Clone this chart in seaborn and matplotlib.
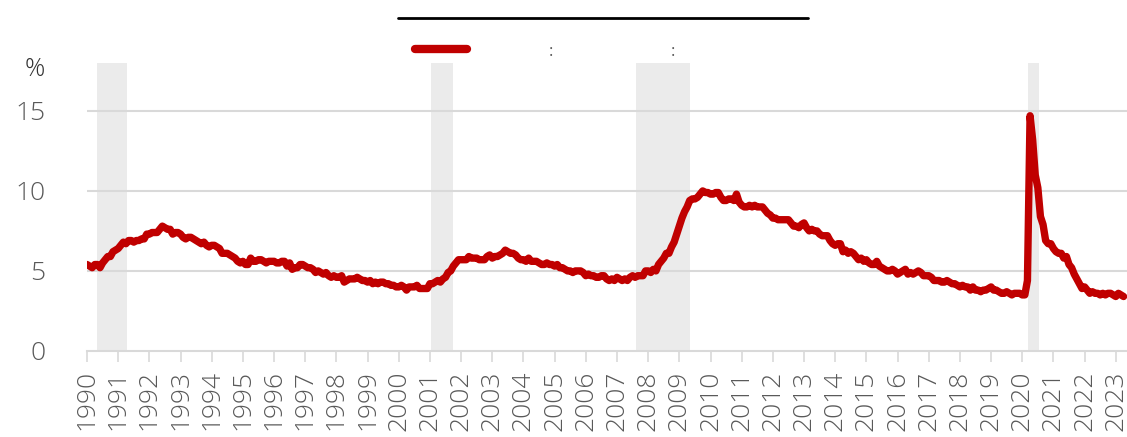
import numpy as np
import pandas as pd
import matplotlib.pyplot as plt
import seaborn as sns
from matplotlib.lines import Line2D

# monthly unemployment rate, %, Jan 1990 - Apr 2023
start_year = 1990
rate = [
    5.4, 5.3, 5.2, 5.4, 5.4, 5.2, 5.5, 5.7, 5.9, 5.9, 6.2, 6.3,   # 1990
    6.4, 6.6, 6.8, 6.7, 6.9, 6.9, 6.8, 6.9, 6.9, 7.0, 7.0, 7.3,   # 1991
    7.3, 7.4, 7.4, 7.4, 7.6, 7.8, 7.7, 7.6, 7.6, 7.3, 7.4, 7.4,   # 1992
    7.3, 7.1, 7.0, 7.1, 7.1, 7.0, 6.9, 6.8, 6.7, 6.8, 6.6, 6.5,   # 1993
    6.6, 6.6, 6.5, 6.4, 6.1, 6.1, 6.1, 6.0, 5.9, 5.8, 5.6, 5.5,   # 1994
    5.6, 5.4, 5.4, 5.8, 5.6, 5.6, 5.7, 5.7, 5.6, 5.5, 5.6, 5.6,   # 1995
    5.6, 5.5, 5.5, 5.6, 5.6, 5.3, 5.5, 5.1, 5.2, 5.2, 5.4, 5.4,   # 1996
    5.3, 5.2, 5.2, 5.1, 4.9, 5.0, 4.9, 4.8, 4.9, 4.7, 4.6, 4.7,   # 1997
    4.6, 4.6, 4.7, 4.3, 4.4, 4.5, 4.5, 4.5, 4.6, 4.5, 4.4, 4.4,   # 1998
    4.3, 4.4, 4.2, 4.3, 4.2, 4.3, 4.3, 4.2, 4.2, 4.1, 4.1, 4.0,   # 1999
    4.0, 4.1, 4.0, 3.8, 4.0, 4.0, 4.0, 4.1, 3.9, 3.9, 3.9, 3.9,   # 2000
    4.2, 4.2, 4.3, 4.4, 4.3, 4.5, 4.6, 4.9, 5.0, 5.3, 5.5, 5.7,   # 2001
    5.7, 5.7, 5.7, 5.9, 5.8, 5.8, 5.8, 5.7, 5.7, 5.7, 5.9, 6.0,   # 2002
    5.8, 5.9, 5.9, 6.0, 6.1, 6.3, 6.2, 6.1, 6.1, 6.0, 5.8, 5.7,   # 2003
    5.7, 5.6, 5.8, 5.6, 5.6, 5.6, 5.5, 5.4, 5.4, 5.5, 5.4, 5.4,   # 2004
    5.3, 5.4, 5.2, 5.2, 5.1, 5.0, 5.0, 4.9, 5.0, 5.0, 5.0, 4.9,   # 2005
    4.7, 4.8, 4.7, 4.7, 4.6, 4.6, 4.7, 4.7, 4.5, 4.4, 4.5, 4.4,   # 2006
    4.6, 4.5, 4.4, 4.5, 4.4, 4.6, 4.7, 4.6, 4.7, 4.7, 4.7, 5.0,   # 2007
    5.0, 4.9, 5.1, 5.0, 5.4, 5.6, 5.8, 6.1, 6.1, 6.5, 6.8, 7.3,   # 2008
    7.8, 8.3, 8.7, 9.0, 9.4, 9.5, 9.5, 9.6, 9.8, 10.0, 9.9, 9.9,  # 2009
    9.8, 9.8, 9.9, 9.9, 9.6, 9.4, 9.4, 9.5, 9.5, 9.4, 9.8, 9.3,   # 2010
    9.1, 9.0, 9.0, 9.1, 9.0, 9.1, 9.0, 9.0, 9.0, 8.8, 8.6, 8.5,   # 2011
    8.3, 8.3, 8.2, 8.2, 8.2, 8.2, 8.2, 8.0, 7.8, 7.8, 7.7, 7.9,   # 2012
    8.0, 7.7, 7.5, 7.6, 7.5, 7.5, 7.3, 7.2, 7.2, 7.2, 6.9, 6.7,   # 2013
    6.6, 6.7, 6.7, 6.2, 6.3, 6.1, 6.2, 6.1, 5.9, 5.7, 5.8, 5.6,   # 2014
    5.7, 5.5, 5.4, 5.4, 5.6, 5.3, 5.2, 5.1, 5.0, 5.0, 5.1, 5.0,   # 2015
    4.8, 4.9, 5.0, 5.1, 4.8, 4.9, 4.8, 4.9, 5.0, 4.9, 4.7, 4.7,   # 2016
    4.7, 4.6, 4.4, 4.4, 4.4, 4.3, 4.3, 4.4, 4.3, 4.2, 4.2, 4.1,   # 2017
    4.0, 4.1, 4.0, 4.0, 3.8, 4.0, 3.8, 3.8, 3.7, 3.8, 3.8, 3.9,   # 2018
    4.0, 3.8, 3.8, 3.7, 3.6, 3.6, 3.7, 3.6, 3.5, 3.6, 3.6, 3.6,   # 2019
    3.5, 3.5, 4.4, 14.7, 13.2, 11.0, 10.2, 8.4, 7.9, 6.9, 6.7, 6.7,  # 2020
    6.4, 6.2, 6.1, 6.1, 5.8, 5.9, 5.4, 5.2, 4.8, 4.5, 4.2, 3.9,   # 2021
    4.0, 3.8, 3.6, 3.7, 3.6, 3.6, 3.5, 3.6, 3.5, 3.6, 3.6, 3.5,   # 2022
    3.4, 3.6, 3.5, 3.4,                                           # 2023
]

# recession bands (decimal years, as drawn)
recession_start = [1990.32, 2001.03, 2007.60, 2020.20]
recession_end = [1991.28, 2001.74, 2009.34, 2020.53]

years = list(range(1990, 2024))
y_ticks = [0, 5, 10, 15]

df = pd.DataFrame({"rate": rate})
df["t"] = start_year + np.arange(len(df)) / 12

sns.set_style("white")
plt.rcParams["font.family"] = ["Open Sans", "DejaVu Sans"]

fig = plt.figure(figsize=(11.27, 4.37), dpi=100)
ax = fig.add_axes([0.0772, 0.197, 0.9228, 0.659])

grey = "#EBEBEB"
for s, e in zip(recession_start, recession_end):
    ax.axvspan(s, e, color=grey, lw=0, zorder=0)

for v in y_ticks[1:]:
    ax.axhline(v, color="#D9D9D9", lw=1.5, zorder=1)

sns.lineplot(data=df, x="t", y="rate", color="#C00000", lw=5.3,
             solid_capstyle="round", solid_joinstyle="round", ax=ax, zorder=3)

ax.set_xlim(1990, 2023.36)
ax.set_ylim(0, 18)
ax.set_xticks(years)
ax.set_xticklabels([str(y) for y in years], rotation=90)
ax.set_yticks(y_ticks)
ax.set(xlabel="", ylabel="")

for side in ["top", "right", "left"]:
    ax.spines[side].set_visible(False)
ax.spines["bottom"].set_color("#D9D9D9")
ax.spines["bottom"].set_linewidth(1.5)

ax.tick_params(axis="x", length=8, width=1.2, color="#D9D9D9", pad=6,
               labelsize=19, labelcolor="#595959", bottom=True)
ax.tick_params(axis="y", length=0, pad=30, labelsize=19, labelcolor="#595959")
for lab in ax.get_xticklabels() + ax.get_yticklabels():
    lab.set_fontweight("light")

fig.text(0.022, 1 - 76 / 437, "%", fontsize=18, color="#333333",
         fontweight="light")

# header rule and legend
fig.add_artist(Line2D([398 / 1127, 808 / 1127], [1 - 18 / 437, 1 - 18 / 437],
                      color="black", lw=2))
fig.add_artist(Line2D([415 / 1127, 467 / 1127], [1 - 49 / 437, 1 - 49 / 437],
                      color="#C00000", lw=6, solid_capstyle="round"))
fig.text(551 / 1127, 1 - 52 / 437, ":", fontsize=12, color="#595959",
         ha="center", va="center")
fig.text(673 / 1127, 1 - 52 / 437, ":", fontsize=12, color="#595959",
         ha="center", va="center")

fig.savefig("out.png", dpi=100)
